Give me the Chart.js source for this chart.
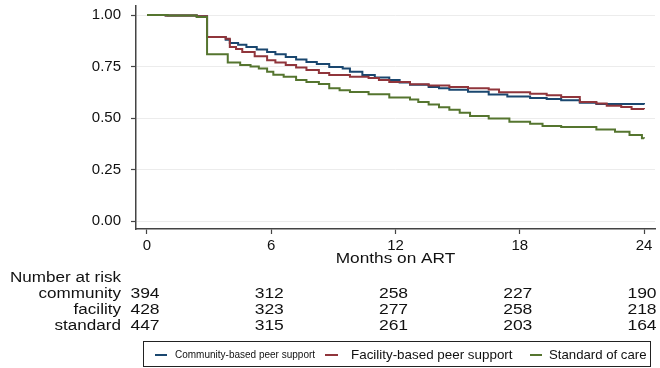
<!DOCTYPE html>
<html>
<head>
<meta charset="utf-8">
<script src="https://cdn.jsdelivr.net/npm/chart.js@4.4.1/dist/chart.umd.min.js"></script>
<style>
  body { margin: 0; background: #fff; }
  canvas { display: block; }
</style>
</head>
<body>
<canvas id="km" width="660" height="368"></canvas>
<script>
'use strict';

// Kaplan-Meier curves: month of step, survival after the step
let communityMonths = [0, 0.9, 2.4, 2.9, 3.8, 4.0, 4.4, 4.8, 5.3, 5.8, 6.2, 6.7, 7.2, 7.7, 8.2, 8.8, 9.45, 9.8, 10.4, 11.0, 11.7, 12.2, 12.7, 13.6, 14.1, 14.6, 15.5, 16.5, 17.4, 18.5, 19.3, 20.0, 20.9, 21.7, 24];
let communitySurv = [1, 0.998, 0.994, 0.893, 0.88, 0.864, 0.855, 0.845, 0.832, 0.82, 0.81, 0.796, 0.784, 0.772, 0.762, 0.748, 0.74, 0.725, 0.709, 0.697, 0.684, 0.672, 0.662, 0.65, 0.644, 0.637, 0.627, 0.614, 0.604, 0.597, 0.592, 0.586, 0.574, 0.568, 0.566];

let facilityMonths = [0, 0.9, 2.4, 2.9, 3.8, 4.0, 4.3, 4.6, 5.2, 5.8, 6.2, 6.7, 7.2, 7.7, 8.3, 8.8, 9.8, 10.7, 11.2, 11.7, 12.7, 13.6, 14.6, 15.5, 16.5, 17.0, 18.5, 19.3, 20.0, 20.9, 21.7, 22.2, 22.9, 23.4, 24];
let facilitySurv = [1, 0.998, 0.994, 0.893, 0.885, 0.845, 0.835, 0.82, 0.8, 0.78, 0.77, 0.757, 0.745, 0.733, 0.718, 0.709, 0.7, 0.694, 0.684, 0.675, 0.664, 0.658, 0.651, 0.645, 0.638, 0.625, 0.618, 0.61, 0.602, 0.578, 0.571, 0.56, 0.553, 0.544, 0.542];

let standardMonths = [0, 1.0, 2.4, 2.9, 3.9, 4.5, 5.0, 5.4, 5.8, 6.1, 6.6, 7.2, 7.7, 8.3, 8.8, 9.3, 9.8, 10.7, 11.7, 12.7, 13.1, 13.6, 14.1, 14.6, 15.1, 15.6, 16.5, 17.5, 18.5, 19.1, 20.0, 21.7, 22.6, 23.3, 23.9, 24];
let standardSurv = [1, 0.998, 0.99, 0.81, 0.77, 0.757, 0.75, 0.74, 0.725, 0.71, 0.7, 0.685, 0.675, 0.665, 0.645, 0.635, 0.626, 0.615, 0.6, 0.59, 0.578, 0.565, 0.552, 0.54, 0.525, 0.51, 0.498, 0.482, 0.472, 0.461, 0.456, 0.444, 0.433, 0.417, 0.402, 0.401];

let seriesNames = ['Community-based peer support', 'Facility-based peer support', 'Standard of care'];
let seriesColors = ['#1a476f', '#90353b', '#55752f'];

let xTicks = [0, 6, 12, 18, 24];
let yTicks = [0, 0.25, 0.5, 0.75, 1];

// number at risk table
let riskLabels = ['community', 'facility', 'standard'];
let riskCommunity = [394, 312, 258, 227, 190];
let riskFacility = [428, 323, 277, 258, 218];
let riskStandard = [447, 315, 261, 203, 164];

let FONT = "'Liberation Sans', Arial, sans-serif";

function toPoints(months, surv){
  return months.map((m, i) => ({x: m, y: surv[i]}));
}

function makeSet(i, months, surv){
  return {
    label: seriesNames[i],
    data: toPoints(months, surv),
    borderColor: seriesColors[i],
    backgroundColor: seriesColors[i],
    borderWidth: 2,
    pointRadius: 0,
    stepped: true,
    fill: false,
    order: 3 - i
  };
}

// draws text stretched sideways a bit, the source picture is wider than its font
function wideText(ctx, text, x, y, size, sx, align){
  ctx.save();
  ctx.font = size + 'px ' + FONT;
  ctx.textBaseline = 'middle';
  ctx.textAlign = align;
  ctx.translate(x, y);
  ctx.scale(sx, 1);
  ctx.fillText(text, 0, 0);
  ctx.restore();
}

let riskTable = {
  id: 'riskTable',
  afterDraw(chart){
    let ctx = chart.ctx;
    let xs = chart.scales.x;
    ctx.fillStyle = '#111';

    wideText(ctx, 'Months on ART', xs.getPixelForValue(12), 259, 15, 1.15, 'center');
    wideText(ctx, 'Number at risk', 10, 278, 14, 1.22, 'left');

    let rows = [riskCommunity, riskFacility, riskStandard];
    let rowY = [294, 310, 326];
    rows.forEach((row, r) => {
      wideText(ctx, riskLabels[r], 121, rowY[r], 14, 1.22, 'right');
      row.forEach((n, i) => {
        wideText(ctx, String(n), xs.getPixelForValue(xTicks[i]) - 2, rowY[r], 14, 1.25, 'center');
      });
    });

    // legend box
    ctx.save();
    ctx.strokeStyle = '#222';
    ctx.lineWidth = 1;
    ctx.strokeRect(143.5, 341.5, 507, 25);
    let keys = [
      {x0: 155, x1: 167, tx: 175, size: 10},
      {x0: 325, x1: 338, tx: 351, size: 13.4},
      {x0: 530, x1: 542, tx: 549, size: 13.2}
    ];
    keys.forEach((k, i) => {
      ctx.strokeStyle = seriesColors[i];
      ctx.lineWidth = 2;
      ctx.beginPath();
      ctx.moveTo(k.x0, 355);
      ctx.lineTo(k.x1, 355);
      ctx.stroke();
      ctx.fillStyle = '#111';
      wideText(ctx, seriesNames[i], k.tx, 355, k.size, 1, 'left');
    });
    ctx.restore();
  }
};

new Chart(document.getElementById('km'), {
  type: 'line',
  data: {
    datasets: [
      makeSet(0, communityMonths, communitySurv),
      makeSet(1, facilityMonths, facilitySurv),
      makeSet(2, standardMonths, standardSurv)
    ]
  },
  options: {
    responsive: false,
    animation: false,
    layout: { padding: { top: 6, right: 5, left: 0, bottom: 0 } },
    plugins: {
      legend: { display: false },
      tooltip: { enabled: false }
    },
    scales: {
      x: {
        type: 'linear',
        min: -0.531,
        max: 24.531,
        afterBuildTicks: scale => { scale.ticks = xTicks.map(v => ({value: v})); },
        afterFit: scale => {
          scale.height = 139;
          scale.paddingLeft = 0;
          scale.paddingRight = 0;
        },
        ticks: {
          color: '#111',
          font: { family: FONT, size: 15 },
          padding: 3,
          maxRotation: 0
        },
        grid: {
          drawOnChartArea: false,
          drawTicks: true,
          tickLength: 5,
          tickColor: '#444',
          tickWidth: 1.2
        },
        border: { display: true, color: '#444', width: 1.5 }
      },
      y: {
        min: -0.0388,
        max: 1.0437,
        afterBuildTicks: scale => { scale.ticks = yTicks.map(v => ({value: v})); },
        afterFit: scale => {
          scale.width = 136;
          scale.paddingTop = 0;
          scale.paddingBottom = 0;
        },
        ticks: {
          color: '#111',
          font: { family: FONT, size: 15 },
          padding: 10,
          callback: v => Number(v).toFixed(2)
        },
        grid: {
          color: '#ececec',
          lineWidth: 1,
          drawTicks: true,
          tickLength: 5,
          tickColor: '#444',
          tickWidth: 1.2
        },
        border: { display: true, color: '#444', width: 1.5 }
      }
    }
  },
  plugins: [riskTable]
});
</script>
</body>
</html>
